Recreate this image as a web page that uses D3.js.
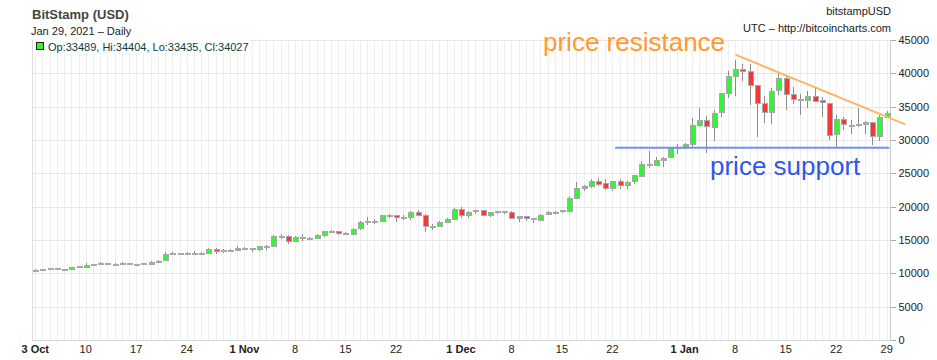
<!DOCTYPE html>
<html>
<head>
<meta charset="utf-8">
<script src="https://cdn.jsdelivr.net/npm/d3@7"></script>
<style>
  html, body { margin: 0; padding: 0; background: #fff; }
  svg { display: block; font-family: "Liberation Sans", Arial, sans-serif; }
</style>
</head>
<body>
<svg id="chart" width="937" height="360"></svg>
<script>
// ---------- data ----------
const startDay = "2020-10-03";
const endDay = "2021-01-30"; // exclusive
const open = [10575,10550,10670,10790,10600,10670,10930,11060,11300,11380,11550,11430,11430,11510,11330,11370,11520,11750,11920,12830,12980,12930,13120,13030,13070,13650,13280,13460,13560,
  13800,13760,13550,14030,14150,15590,15580,14830,15480,15330,15310,15700,16290,16330,16070,15960,16720,17660,17800,17810,18680,18710,18420,18370,19160,18730,17150,17140,17720,18180,
  19700,18790,19220,19440,18700,19150,19360,19170,18320,18550,18250,18040,18800,19170,19270,19440,21370,22840,23110,23860,23480,22750,23830,23260,23730,24700,26460,26270,27050,27370,28880,
  28980,29400,32200,33000,32030,34100,37000,39600,40650,40300,38250,35550,34250,37400,39250,36900,36100,36000,36650,35950,35600,30850,33100,32300,32250,32350,32650,30600,33489];
const high = [10600,10690,10800,10800,10690,10960,11120,11490,11440,11730,11560,11550,11630,11540,11400,11530,11830,12030,13220,13180,13030,13160,13340,13240,13790,13860,13640,13700,14100,
  13900,13820,14080,14250,15750,15970,15770,15650,15850,15460,15960,16350,16480,16340,16130,16870,17850,18480,18180,18810,18960,18750,18770,19420,19490,18920,17460,17880,18330,19850,
  19920,19330,19560,19520,19180,19420,19410,19290,18640,18560,18280,18950,19410,19340,19550,21560,23770,23280,24170,24300,24100,23840,24100,23790,24780,26880,28400,27420,27380,28990,29330,
  29600,33300,34800,33600,34500,36950,40350,41950,41350,41350,38250,36600,37800,40100,39700,37950,36850,37400,37850,36400,35600,33800,33500,32950,34850,32900,32650,33800,34404];
const low = [10490,10520,10620,10530,10580,10530,10830,11060,11290,11200,11300,11290,11280,11220,11310,11340,11420,11690,11900,12700,12740,12900,12920,12780,13050,12940,12990,13140,13440,
  13620,13200,13300,13530,14100,15200,14350,14720,14800,15080,15280,15450,15990,15720,15870,15890,16560,17230,17350,17760,18360,17650,18000,18040,18570,16200,16450,16880,17530,18180,
  18320,18350,18900,18580,18500,18870,18920,18210,17660,17910,17570,18020,18730,19000,19060,19300,21240,22350,22770,23080,22470,22400,22700,22700,23430,24500,25860,26100,25880,27320,27900,
  28700,28950,32000,28000,29900,33400,36300,36600,38800,35200,30400,32600,32400,36700,34500,35400,33800,34850,35900,33400,30070,28850,31450,30950,31950,30850,29200,29900,33435];
const close = [10550,10670,10790,10600,10670,10930,11060,11300,11380,11550,11430,11430,11510,11330,11370,11520,11750,11920,12830,12980,12930,13120,13030,13070,13650,13280,13460,13560,13800,
  13760,13550,14030,14150,15590,15580,14830,15480,15330,15310,15700,16290,16330,16070,15960,16720,17660,17800,17810,18680,18710,18420,18370,19160,18730,17150,17140,17720,18180,19700,
  18790,19220,19440,18700,19150,19360,19170,18320,18550,18250,18040,18800,19170,19270,19440,21370,22840,23110,23860,23480,22750,23830,23260,23730,24700,26460,26270,27050,27370,28880,28980,
  29400,32200,33000,32030,34100,37000,39600,40650,40300,38250,35550,34250,37400,39250,36900,36100,36000,36650,35950,35600,30850,33100,32300,32250,32350,32650,30600,33450,34027];

const yTicks = [0,5000,10000,15000,20000,25000,30000,35000,40000,45000];
const xTickDays = ["2020-10-03","2020-10-10","2020-10-17","2020-10-24","2020-11-01","2020-11-08","2020-11-15","2020-11-22",
  "2020-12-01","2020-12-08","2020-12-15","2020-12-22","2021-01-01","2021-01-08","2021-01-15","2021-01-22","2021-01-29"];
const xTickLabels = ["3 Oct","10","17","24","1 Nov","8","15","22","1 Dec","8","15","22","1 Jan","8","15","22","29"];
const boldLabels = ["3 Oct","1 Nov","1 Dec","1 Jan"];

// annotation lines: [time, price]
const resistance = [["2021-01-08T01:00", 42800], ["2021-01-31T14:00", 32350]];
const support = [["2020-12-22T09:00", 28850], ["2021-01-29T09:00", 28850]];

const title = "BitStamp (USD)";
const subtitle = "Jan 29, 2021 \u2013 Daily";
const legendText = "Op:33489, Hi:34404, Lo:33435, Cl:34027";
const rightTop1 = "bitstampUSD";
const rightTop2 = "UTC \u2013 http://bitcoincharts.com";

// ---------- chart ----------
const parse = d3.utcParse("%Y-%m-%d");
const parseT = d3.utcParse("%Y-%m-%dT%H:%M");
const dates = d3.utcDay.range(parse(startDay), parse(endDay));
const svg = d3.select("#chart");

const L = 31.6, R = 890.3, T = 40, B = 340;
const x = d3.scaleBand().domain(dates).range([L, R]).padding(0);
const bw = x.bandwidth();
const cx = d => x(d) + bw / 2;
// continuous time scale aligned with candle centres (for annotation lines)
const xt = d3.scaleUtc().domain([dates[0], dates[dates.length - 1]])
  .range([cx(dates[0]), cx(dates[dates.length - 1])]);
const y = d3.scaleLinear().domain([0, 45000]).range([B, T]);

const data = dates.map((d, i) => ({ date: d, o: open[i], h: high[i], l: low[i], c: close[i] }));

// grid
const grid = svg.append("g").attr("shape-rendering", "crispEdges");
grid.selectAll("line.v").data(dates).join("line")
  .attr("x1", d => Math.round(cx(d)) + 0.5).attr("x2", d => Math.round(cx(d)) + 0.5)
  .attr("y1", T).attr("y2", B).attr("stroke", "#eeeeee");
grid.selectAll("line.h").data(yTicks).join("line")
  .attr("x1", L).attr("x2", R).attr("y1", d => Math.round(y(d)) + 0.5).attr("y2", d => Math.round(y(d)) + 0.5)
  .attr("stroke", "#e6e6e6");
// frame
grid.append("line").attr("x1", Math.round(L) + 0.5).attr("x2", Math.round(L) + 0.5).attr("y1", T).attr("y2", B).attr("stroke", "#dddddd");
grid.append("line").attr("x1", Math.round(R) + 0.5).attr("x2", Math.round(R) + 0.5).attr("y1", T).attr("y2", B + 1).attr("stroke", "#cccccc");
grid.append("line").attr("x1", L).attr("x2", R).attr("y1", B + 0.5).attr("y2", B + 0.5).attr("stroke", "#d6d6d6");

// y axis
const yAxis = svg.append("g").attr("transform", `translate(${Math.round(R) + 0.5},0)`)
  .call(d3.axisRight(y).tickValues(yTicks).tickSize(5).tickPadding(3).tickFormat(d3.format("d")));
yAxis.select(".domain").remove();
yAxis.selectAll(".tick line").attr("stroke", "#aaaaaa").attr("shape-rendering", "crispEdges");
yAxis.selectAll(".tick text").attr("fill", "#222").style("font-size", "11px")
  .style("font-family", "Liberation Sans, Arial, sans-serif");

// x axis
const xTickDates = xTickDays.map(parse);
const xAxis = svg.append("g").attr("transform", `translate(0,${B})`)
  .call(d3.axisBottom(x).tickValues(xTickDates).tickSize(0).tickPadding(5)
    .tickFormat((d, i) => xTickLabels[i]));
xAxis.select(".domain").remove();
xAxis.selectAll(".tick text").attr("fill", "#222").style("font-size", "11px")
  .style("font-family", "Liberation Sans, Arial, sans-serif")
  .style("font-weight", (d, i) => boldLabels.includes(xTickLabels[i]) ? "bold" : "normal");

// candles
const cg = svg.append("g").attr("shape-rendering", "crispEdges");
cg.selectAll("line.wick").data(data).join("line")
  .attr("x1", d => Math.round(cx(d.date)) + 0.5).attr("x2", d => Math.round(cx(d.date)) + 0.5)
  .attr("y1", d => y(d.h)).attr("y2", d => y(d.l)).attr("stroke", "#8c8c8c");
cg.selectAll("rect.body").data(data).join("rect")
  .attr("x", d => Math.round(cx(d.date)) - 2)
  .attr("width", 5)
  .attr("y", d => Math.round(y(Math.max(d.o, d.c))))
  .attr("height", d => Math.max(1, Math.round(Math.abs(y(d.o) - y(d.c)))))
  .attr("fill", d => Math.abs(y(d.o) - y(d.c)) < 1.2 ? "#bbbbbb" : (d.c >= d.o ? "#33f533" : "#fb3535"))
  .attr("stroke", "#a8a8a8").attr("stroke-width", 1);

// annotation lines
svg.append("line")
  .attr("x1", xt(parseT(resistance[0][0]))).attr("y1", y(resistance[0][1]))
  .attr("x2", xt(parseT(resistance[1][0]))).attr("y2", y(resistance[1][1]))
  .attr("stroke", "#ffb565").attr("stroke-width", 2);
svg.append("line")
  .attr("x1", xt(parseT(support[0][0]))).attr("y1", y(support[0][1]))
  .attr("x2", xt(parseT(support[1][0]))).attr("y2", y(support[1][1]))
  .attr("stroke", "#7190ee").attr("stroke-width", 2);

// annotation text
svg.append("text").attr("x", 543).attr("y", 51).text("price resistance")
  .attr("fill", "#ff9a2e").style("font-size", "26px");
svg.append("text").attr("x", 710).attr("y", 175).text("price support")
  .attr("fill", "#2f58e8").style("font-size", "26px");

// legend box
svg.append("rect").attr("x", 33).attr("y", 40).attr("width", 216).attr("height", 13).attr("fill", "#fff");
svg.append("rect").attr("x", 36.5).attr("y", 42.5).attr("width", 7).attr("height", 7)
  .attr("fill", "#33f533").attr("stroke", "#222");
svg.append("text").attr("x", 48).attr("y", 51).text(legendText)
  .attr("fill", "#0b3b3b").style("font-size", "11px");

// header
svg.append("text").attr("x", 32).attr("y", 19).text(title)
  .attr("fill", "#444").style("font-size", "13px").style("font-weight", "bold");
svg.append("text").attr("x", 31).attr("y", 35).text(subtitle)
  .attr("fill", "#222").style("font-size", "11px");
svg.append("text").attr("x", 891).attr("y", 15).attr("text-anchor", "end").text(rightTop1)
  .attr("fill", "#222").style("font-size", "11px");
svg.append("text").attr("x", 891).attr("y", 32).attr("text-anchor", "end").text(rightTop2)
  .attr("fill", "#222").style("font-size", "11px");
</script>
</body>
</html>
